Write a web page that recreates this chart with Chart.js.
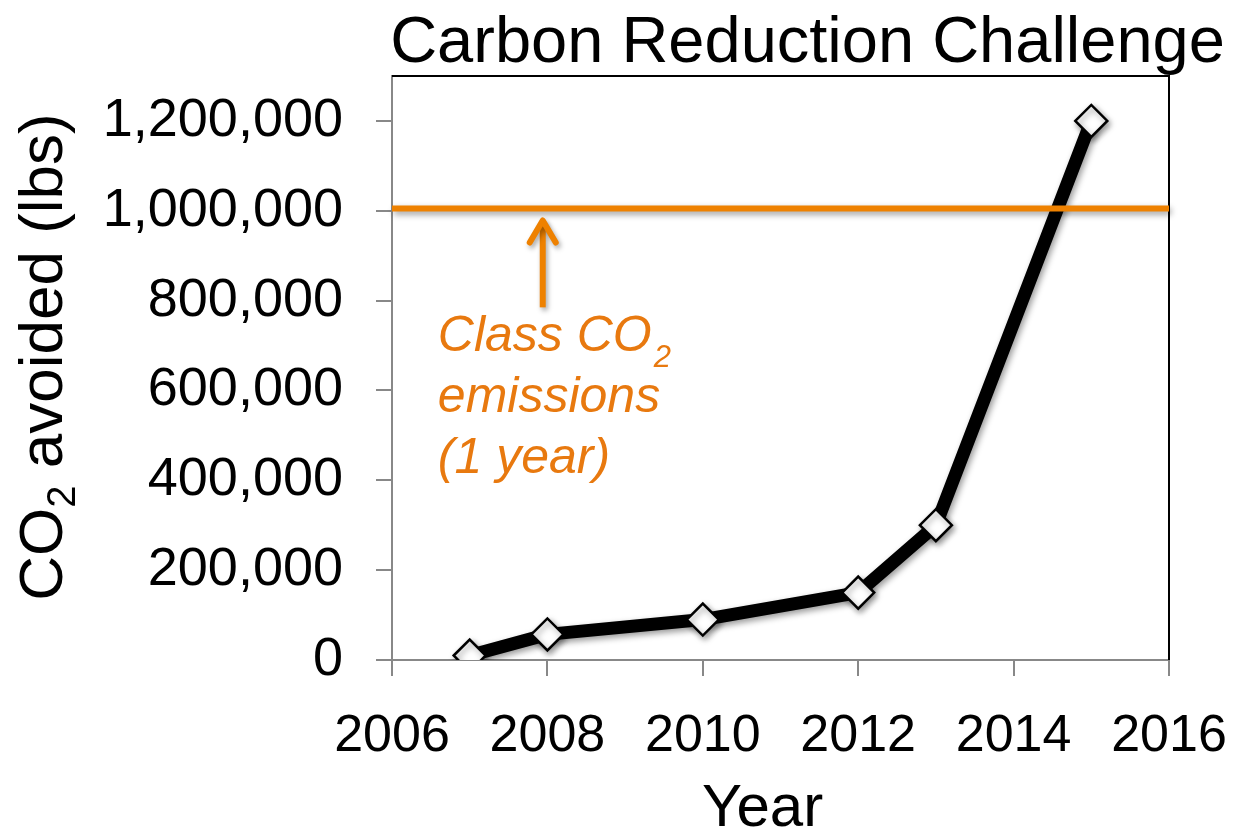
<!DOCTYPE html>
<html>
<head>
<meta charset="utf-8">
<script src="https://cdn.jsdelivr.net/npm/chart.js@4/dist/chart.umd.min.js"></script>
<style>
  html, body { margin: 0; padding: 0; background: #fff; }
  #wrap { width: 1236px; height: 833px; }
</style>
</head>
<body>
<div id="wrap"><canvas id="c" width="1236" height="833"></canvas></div>
<script>
// Carbon Reduction Challenge: cumulative CO2 avoided per year
const years = [2007, 2008, 2010, 2012, 2013, 2015];
const co2Avoided = [10000, 57000, 90000, 150000, 300000, 1200000];

// Class CO2 emissions for one year (reference level)
const classYears = [2006, 2016];
const classEmissions = [1005000, 1005000];

const xTicks = [2006, 2008, 2010, 2012, 2014, 2016];
const yTicks = [0, 200000, 400000, 600000, 800000, 1000000, 1200000];

// annotation anchors in data units
const arrowYear = 2007.94;
const arrowFrom = 785000;
const arrowTo = 985000;
const noteYear = 2006.59;
const noteValue = 688000;
const noteLines = ['Class CO', 'emissions', '(1 year)'];

const ORANGE = '#EE8100';
const ORANGE_TEXT = '#E8790F';
const FONT = '"Liberation Sans", Arial, Helvetica, sans-serif';

const decor = {
  id: 'decor',
  beforeDatasetsDraw(chart) {
    const { ctx, chartArea: a } = chart;
    ctx.save();
    ctx.strokeStyle = '#000';
    ctx.lineWidth = 2;
    ctx.beginPath();
    ctx.moveTo(a.left, a.top);
    ctx.lineTo(a.right, a.top);
    ctx.lineTo(a.right, a.bottom);
    ctx.stroke();
    ctx.restore();
  },
  beforeDatasetDraw(chart) {
    const ctx = chart.ctx;
    ctx.save();
    ctx.shadowColor = 'rgba(0,0,0,0.40)';
    ctx.shadowBlur = 6;
    ctx.shadowOffsetX = 2;
    ctx.shadowOffsetY = 3;
  },
  afterDatasetDraw(chart) {
    chart.ctx.restore();
  },
  afterDatasetsDraw(chart) {
    const { ctx } = chart;
    const xs = chart.scales.x, ys = chart.scales.y;

    // arrow pointing at the class emissions line
    const ax = xs.getPixelForValue(arrowYear);
    const y0 = ys.getPixelForValue(arrowFrom);
    const y1 = ys.getPixelForValue(arrowTo);
    ctx.save();
    ctx.shadowColor = 'rgba(0,0,0,0.35)';
    ctx.shadowBlur = 5;
    ctx.shadowOffsetX = 2;
    ctx.shadowOffsetY = 3;
    ctx.strokeStyle = ORANGE;
    ctx.lineWidth = 6;
    ctx.lineCap = 'butt';
    ctx.beginPath();
    ctx.moveTo(ax, y0);
    ctx.lineTo(ax, y1 + 4);
    ctx.stroke();
    ctx.lineCap = 'round';
    ctx.lineJoin = 'round';
    ctx.beginPath();
    ctx.moveTo(ax - 13, y1 + 25);
    ctx.lineTo(ax, y1 + 3);
    ctx.lineTo(ax + 13, y1 + 25);
    ctx.stroke();
    ctx.restore();

    // note text
    const nx = xs.getPixelForValue(noteYear);
    const ny = ys.getPixelForValue(noteValue);
    ctx.save();
    ctx.fillStyle = ORANGE_TEXT;
    ctx.textAlign = 'left';
    ctx.textBaseline = 'alphabetic';
    ctx.font = 'italic 50px ' + FONT;
    noteLines.forEach((t, i) => ctx.fillText(t, nx, ny + i * 61));
    const w = ctx.measureText(noteLines[0]).width;
    ctx.font = 'italic 31px ' + FONT;
    ctx.fillText('2', nx + w + 2, ny + 16);
    ctx.restore();
  },
  afterDraw(chart) {
    const { ctx, chartArea: a } = chart;
    const cx = (a.left + a.right) / 2;
    ctx.save();
    ctx.fillStyle = '#000';
    ctx.textBaseline = 'alphabetic';

    // chart title
    ctx.textAlign = 'center';
    ctx.font = '65px ' + FONT;
    ctx.fillText('Carbon Reduction Challenge', cx + 27, a.top - 14);

    // x axis title
    ctx.font = '60px ' + FONT;
    ctx.fillText('Year', cx - 18, a.bottom + 166);

    // y axis title with subscript
    const cy = (a.top + a.bottom) / 2 - 11;
    ctx.translate(a.left - 330, cy);
    ctx.rotate(-Math.PI / 2);
    ctx.textAlign = 'left';
    ctx.font = '62px ' + FONT;
    const p1 = 'CO', p3 = ' avoided (lbs)';
    const w1 = ctx.measureText(p1).width;
    const w3 = ctx.measureText(p3).width;
    ctx.font = '40px ' + FONT;
    const w2 = ctx.measureText('2').width;
    const total = w1 + w2 + w3;
    let x = -total / 2;
    ctx.font = '62px ' + FONT;
    ctx.fillText(p1, x, 0);
    x += w1;
    ctx.font = '40px ' + FONT;
    ctx.fillText('2', x, 13);
    x += w2;
    ctx.font = '62px ' + FONT;
    ctx.fillText(p3, x, 0);
    ctx.restore();
  }
};

new Chart(document.getElementById('c'), {
  type: 'line',
  data: {
    datasets: [
      {
        label: 'Class CO2 emissions (1 year)',
        data: classYears.map((x, i) => ({ x, y: classEmissions[i] })),
        borderColor: ORANGE,
        borderWidth: 6,
        borderCapStyle: 'butt',
        pointRadius: 0,
        fill: false,
        clip: false
      },
      {
        label: 'CO2 avoided',
        data: years.map((x, i) => ({ x, y: co2Avoided[i] })),
        borderColor: '#000',
        borderWidth: 13,
        borderJoinStyle: 'round',
        pointStyle: 'rectRot',
        pointRadius: 16,
        pointBorderWidth: 2.5,
        pointBackgroundColor: '#fff',
        pointBorderColor: '#000',
        fill: false,
        tension: 0
      }
    ]
  },
  options: {
    responsive: false,
    animation: false,
    devicePixelRatio: 1,
    layout: { padding: { top: 76, right: 67, left: 0, bottom: 0 } },
    plugins: { legend: { display: false }, tooltip: { enabled: false }, title: { display: false } },
    scales: {
      x: {
        type: 'linear',
        min: 2006,
        max: 2016,
        afterBuildTicks: s => { s.ticks = xTicks.map(v => ({ value: v })); },
        afterFit: s => { s.height = 173; s.paddingLeft = 0; s.paddingRight = 0; },
        ticks: {
          callback: v => String(v),
          color: '#000',
          font: { family: FONT, size: 52 },
          padding: 29,
          maxRotation: 0,
          autoSkip: false
        },
        grid: { display: true, drawOnChartArea: false, drawTicks: true, tickLength: 16, color: '#888', lineWidth: 2 },
        border: { display: true, color: '#888', width: 2 }
      },
      y: {
        type: 'linear',
        min: 0,
        max: 1300000,
        afterBuildTicks: s => { s.ticks = yTicks.map(v => ({ value: v })); },
        afterFit: s => { s.width = 392; s.paddingTop = 0; s.paddingBottom = 0; },
        ticks: {
          callback: v => v.toLocaleString('en-US'),
          color: '#000',
          font: { family: FONT, size: 54 },
          padding: 33
        },
        grid: { display: true, drawOnChartArea: false, drawTicks: true, tickLength: 16, color: '#888', lineWidth: 2 },
        border: { display: true, color: '#888', width: 2 }
      }
    }
  },
  plugins: [decor]
});
</script>
</body>
</html>
